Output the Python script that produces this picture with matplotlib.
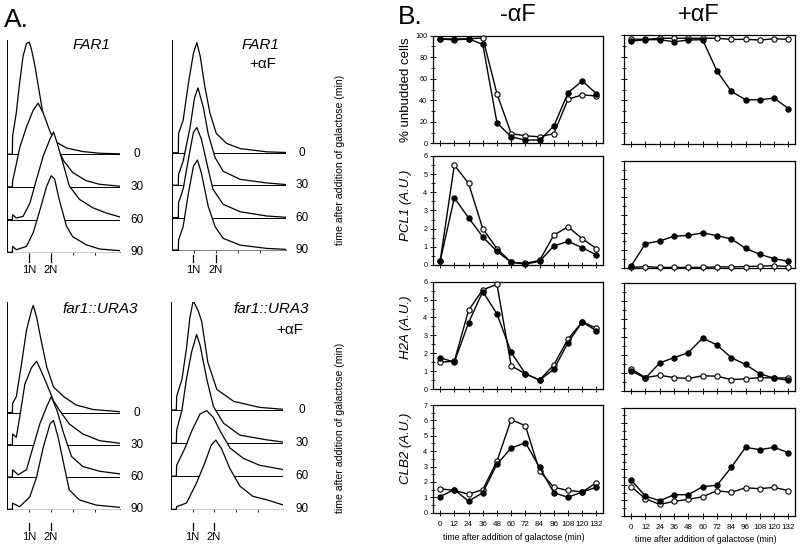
import matplotlib
matplotlib.use("Agg")
import matplotlib.pyplot as plt
from matplotlib.lines import Line2D
from matplotlib.ticker import MultipleLocator

plt.rcParams['font.family'] = ['Liberation Sans', 'DejaVu Sans']

W, H = 800, 548

# ---------------- Panel A data: flow cytometry traces (channel, height) ----------------
TIME_LABELS = ["0", "30", "60", "90"]
DNA_TICKS = [19.5, 38.8, 58, 77.5]

FAR1_X = [
    [0, 4.5, 4.7, 8, 11, 14, 17, 19.5, 21.5, 24.5, 29, 33, 38, 44, 52.5, 67, 82, 100],
    [0, 4.5, 4.7, 6.8, 11, 17, 23, 27.4, 32, 38, 44, 50, 58, 70, 82, 100],
    [0, 4.5, 4.7, 8, 14, 20, 26, 32, 38, 41, 44, 50, 55, 64, 76, 88, 100],
    [0, 4.5, 4.7, 8, 17, 23, 29, 35, 39, 42, 46, 52.5, 58, 70, 82, 100],
]
FAR1_H = [
    [0, 0, 0.55, 1.27, 2.2, 3.0, 3.38, 3.43, 3.2, 2.7, 1.78, 0.96, 0.55, 0.36, 0.19, 0.08, 0.03, 0.01],
    [0, 0, 0.19, 0.5, 1.2, 1.83, 2.35, 2.56, 2.25, 1.68, 1.22, 0.8, 0.44, 0.19, 0.08, 0.02],
    [0, 0, 0.15, 0.05, 0.1, 0.5, 1.24, 1.96, 2.47, 2.68, 2.37, 1.65, 1.03, 0.62, 0.36, 0.2, 0.08],
    [0, 0, 0.18, 0.08, 0.18, 0.6, 1.3, 2.03, 2.34, 2.24, 1.62, 0.8, 0.48, 0.23, 0.1, 0.05],
]

FAR1_AF_X = [
    [0, 5.8, 6, 10, 14.6, 19, 22, 25, 29, 33.5, 39, 48, 60, 83, 100],
    [0, 5.8, 6, 10, 16, 20, 23, 27.7, 32, 38, 45, 60, 83, 100],
    [0, 5.8, 6, 10, 14.6, 19, 22, 26, 30.6, 36, 45, 60, 83, 100],
    [0, 5.8, 6, 10, 14.6, 19, 22.5, 26, 32, 38, 45, 60, 83, 100],
]
FAR1_AF_H = [
    [0, 0, 0.6, 1.0, 2.14, 3.07, 3.4, 2.97, 2.04, 1.22, 0.6, 0.29, 0.13, 0.03, 0.01],
    [0, 0, 0.33, 0.74, 1.77, 2.7, 3.0, 2.4, 1.57, 0.85, 0.43, 0.18, 0.07, 0.02],
    [0, 0, 0.46, 0.88, 1.8, 2.63, 2.78, 2.42, 1.7, 0.88, 0.41, 0.18, 0.05, 0.01],
    [0, 0, 0.31, 0.72, 1.75, 2.58, 2.78, 2.37, 1.34, 0.72, 0.36, 0.15, 0.05, 0.02],
]

URA3_X = [
    [0, 4.5, 4.7, 8, 12.7, 17, 21.5, 23, 26, 30, 35, 41, 50, 61, 76, 100],
    [0, 4.5, 4.7, 8, 11, 15.6, 21.5, 26, 30, 35, 41, 46.6, 55, 67, 82, 100],
    [0, 4.5, 4.7, 9.7, 17, 23, 29, 35, 39, 44, 50, 57, 67, 82, 100],
    [0, 4.5, 4.7, 11, 20, 26, 32, 38, 41, 45, 50, 55, 64, 79, 100],
]
URA3_H = [
    [0, 0, 0.29, 0.5, 1.53, 2.56, 3.18, 3.33, 2.97, 2.25, 1.42, 0.8, 0.5, 0.24, 0.1, 0.03],
    [0, 0, 0.34, 0.24, 0.86, 1.89, 2.4, 2.6, 2.3, 1.89, 1.37, 1.06, 0.65, 0.34, 0.13, 0.05],
    [0, 0, 0.23, 0.07, 0.23, 0.95, 1.67, 2.19, 2.5, 2.08, 1.36, 0.64, 0.33, 0.18, 0.1],
    [0, 0, 0.19, 0.08, 0.39, 1.0, 1.94, 2.66, 2.76, 2.25, 1.42, 0.6, 0.29, 0.13, 0.06],
]

URA3_AF_X = [
    [0, 5, 5.3, 10, 14, 17, 20, 24.5, 27.5, 33, 41, 56, 79, 100],
    [0, 5, 5.3, 10, 14, 18.6, 23, 26, 32, 38, 47, 61.5, 85, 100],
    [0, 5, 5.3, 12.7, 18.6, 26, 32, 38, 44, 52.7, 64.5, 79, 100],
    [0, 5, 5.3, 14, 23, 30.5, 36, 40, 45, 52.7, 61.5, 73, 85, 100],
]
URA3_AF_H = [
    [0, 0, 0.41, 0.93, 1.86, 2.78, 3.3, 2.99, 2.68, 1.44, 0.62, 0.26, 0.08, 0.02],
    [0, 0, 0.39, 1.0, 1.94, 2.76, 3.28, 2.97, 1.94, 1.1, 0.6, 0.24, 0.1, 0.03],
    [0, 0, 0.33, 0.85, 1.36, 1.88, 1.98, 1.77, 1.36, 0.85, 0.54, 0.33, 0.2],
    [0, 0, 0.08, 0.19, 0.8, 1.42, 1.94, 2.09, 1.84, 1.22, 0.7, 0.39, 0.29, 0.13],
]

# ---------------- Panel B data ----------------
TIMES = [0, 12, 24, 36, 48, 60, 72, 84, 96, 108, 120, 132]

UNBUD_M_FILLED = [97, 97, 97, 92, 19, 6, 3, 3, 16, 47, 58, 46]
UNBUD_M_OPEN = [97, 96, 97, 98, 46, 9, 7, 6, 9, 41, 45, 44]
UNBUD_P_FILLED = [94.4, 95.7, 95.7, 93.8, 95.4, 95.7, 66.9, 48.3, 40.6, 40.6, 42.1, 32.5]
UNBUD_P_OPEN = [96.3, 96, 97, 97, 97, 97, 97, 96, 96, 95.4, 96.6, 96]

PCL1_M_FILLED = [0.2, 3.7, 2.6, 1.55, 0.75, 0.15, 0.05, 0.2, 1.05, 1.3, 0.95, 0.55]
PCL1_M_OPEN = [0.2, 5.5, 4.5, 2.0, 0.9, 0.15, 0.1, 0.25, 1.65, 2.1, 1.45, 0.9]
PCL1_P_FILLED = [0.13, 1.38, 1.53, 1.79, 1.84, 1.98, 1.83, 1.64, 1.12, 0.78, 0.54, 0.39]
PCL1_P_OPEN = [0.05, 0.1, 0.05, 0.05, 0.05, 0.05, 0.08, 0.08, 0.1, 0.12, 0.15, 0.1]

H2A_M_FILLED = [1.75, 1.5, 3.7, 5.45, 4.2, 2.05, 0.85, 0.5, 1.1, 2.6, 3.75, 3.25]
H2A_M_OPEN = [1.5, 1.55, 4.4, 5.55, 5.85, 1.3, 0.85, 0.5, 1.35, 2.8, 3.75, 3.4]
H2A_P_FILLED = [1.1, 0.7, 1.55, 1.84, 2.12, 2.93, 2.55, 1.84, 1.46, 0.94, 0.7, 0.58]
H2A_P_OPEN = [1.22, 0.73, 0.86, 0.73, 0.68, 0.83, 0.81, 0.62, 0.66, 0.73, 0.71, 0.71]

CLB2_M_FILLED = [1.05, 1.5, 0.75, 1.3, 3.15, 4.2, 4.55, 2.95, 1.3, 1.0, 1.35, 1.65]
CLB2_M_OPEN = [1.55, 1.45, 1.2, 1.5, 3.35, 6.05, 5.65, 2.7, 1.65, 1.45, 1.35, 1.95]
CLB2_P_FILLED = [2.3, 1.27, 0.97, 1.36, 1.36, 1.88, 1.97, 3.13, 4.43, 4.28, 4.43, 4.08]
CLB2_P_OPEN = [1.88, 1.1, 0.73, 0.93, 1.06, 1.23, 1.62, 1.51, 1.81, 1.75, 1.84, 1.62]

ROW_LABELS = ["% unbudded cells", "PCL1 (A.U.)", "H2A (A.U.)", "CLB2 (A.U.)"]
XLABEL = "time after addition of galactose (min)"

fig = plt.figure(figsize=(W / 100, H / 100), dpi=100)
fig.patch.set_facecolor("white")


def fx(x):
    return x / W


def fy(y):
    return 1 - y / H


def add_ax(x0, y0, x1, y1):
    return fig.add_axes([fx(x0), fy(y1), fx(x1) - fx(x0), fy(y0) - fy(y1)])


def ftext(x, y, s, **kw):
    fig.text(fx(x), fy(y), s, **kw)


def fline(x0, y0, x1, y1, lw=0.9):
    fig.add_artist(Line2D([fx(x0), fx(x1)], [fy(y0), fy(y1)],
                          transform=fig.transFigure, color="black", lw=lw))


def hist_panel(box, xs, hs, spacing, label_x, n1x, n2x, mark_y, lab_y):
    x0, y0, x1, y1 = box
    ax = add_ax(x0, y0, x1, y1)
    top = (y1 - y0) / spacing
    ax.set_xlim(0, 100)
    ax.set_ylim(0, top)
    for k in range(4):
        off = 3 - k
        xv = xs[k]
        yv = [off + h for h in hs[k]]
        ax.fill_between(xv, off, yv, color="white", zorder=2 * k + 1, lw=0)
        ax.plot(xv, yv, color="black", lw=0.9, zorder=2 * k + 2)
        ax.plot([0, 100], [off, off], color="black", lw=0.7, zorder=2 * k + 2)
        ftext(label_x, y1 - off * spacing, TIME_LABELS[k], fontsize=8.5,
              ha="center", va="center")
    for s in ["top", "right"]:
        ax.spines[s].set_visible(False)
    ax.spines["left"].set_linewidth(0.7)
    ax.spines["bottom"].set_linewidth(0.7)
    ax.set_yticks([])
    ax.set_xticks(DNA_TICKS)
    ax.set_xticklabels([])
    ax.tick_params(axis="x", direction="out", length=2.5, width=0.6)
    ax.patch.set_alpha(0)
    for xx, lab in [(n1x, "1N"), (n2x, "2N")]:
        fline(xx, mark_y[0], xx, mark_y[1])
        ftext(xx, lab_y, lab, fontsize=8, ha="center", va="center")
    return ax


# ---------------- Panel A ----------------
ftext(4, 20, "A.", fontsize=19, ha="left", va="center")

hist_panel((7.3, 40, 120, 252.3), FAR1_X, FAR1_H, 32.7, 137, 29.3, 50.7, (255, 262), 270)
hist_panel((171.7, 40, 286, 250), FAR1_AF_X, FAR1_AF_H, 32.4, 302, 193.3, 216, (255, 262), 270)
hist_panel((7.3, 301.7, 120, 509.3), URA3_X, URA3_H, 32.2, 137, 29.3, 50.7, (523, 530), 537)
hist_panel((170.7, 301.7, 283.3, 509.3), URA3_AF_X, URA3_AF_H, 33.1, 302, 192.7, 214, (523, 530), 537)

ftext(110, 45, "FAR1", fontsize=11, style="italic", ha="right", va="center")
ftext(279, 45, "FAR1", fontsize=11, style="italic", ha="right", va="center")
ftext(276, 64, "+\u03b1F", fontsize=11, ha="right", va="center")
ftext(138, 309, "far1::URA3", fontsize=11, style="italic", ha="right", va="center")
ftext(309, 309, "far1::URA3", fontsize=11, style="italic", ha="right", va="center")
ftext(303, 330, "+\u03b1F", fontsize=11, ha="right", va="center")

ftext(340, 160, XLABEL, fontsize=7.6, rotation=90, ha="center", va="center")
ftext(340, 428, XLABEL, fontsize=7.6, rotation=90, ha="center", va="center")

# ---------------- Panel B ----------------
ftext(398, 17, "B.", fontsize=19, ha="left", va="center")
ftext(518, 15, "-\u03b1F", fontsize=17, ha="center", va="center")
ftext(699, 15, "+\u03b1F", fontsize=17, ha="center", va="center")

LEFT_BOXES = [(433, 35.7, 603, 143.3), (433, 156, 603, 265), (433, 281.7, 603, 389), (433, 405, 603, 512.7)]
RIGHT_BOXES = [(624, 35, 795, 144), (624, 161, 795, 268.3), (624, 283, 795, 390.7), (624, 407.7, 795, 515.7)]
YMAX = [100, 6, 6, 7]
YMAJ = [20, 1, 1, 1]
YMIN = [10, 0.5, 0.5, 0.5]
LEFT_DATA = [(UNBUD_M_FILLED, UNBUD_M_OPEN), (PCL1_M_FILLED, PCL1_M_OPEN),
             (H2A_M_FILLED, H2A_M_OPEN), (CLB2_M_FILLED, CLB2_M_OPEN)]
RIGHT_DATA = [(UNBUD_P_FILLED, UNBUD_P_OPEN), (PCL1_P_FILLED, PCL1_P_OPEN),
              (H2A_P_FILLED, H2A_P_OPEN), (CLB2_P_FILLED, CLB2_P_OPEN)]
LABEL_Y = [90, 205, 327, 448]


def b_panel(box, data, row, left):
    ax = add_ax(*box)
    filled, opn = data
    ax.plot(TIMES, opn, color="black", lw=1.0, marker="o", ms=3.8,
            mfc="white", mec="black", mew=0.8, zorder=3, clip_on=False)
    ax.plot(TIMES, filled, color="black", lw=1.0, marker="o", ms=3.8,
            mfc="black", mec="black", mew=0.8, zorder=4, clip_on=False)
    ax.set_xlim(-6, 137.5)
    ax.set_ylim(0, YMAX[row])
    ax.set_xticks(TIMES)
    ax.yaxis.set_major_locator(MultipleLocator(YMAJ[row]))
    ax.yaxis.set_minor_locator(MultipleLocator(YMIN[row]))
    for s in ax.spines.values():
        s.set_linewidth(0.9)
    ax.tick_params(axis="x", direction="inout", length=4, width=0.7, pad=4, labelsize=5.8)
    ax.tick_params(axis="y", which="major", direction="inout", length=4, width=0.7, pad=2, labelsize=5.2)
    ax.tick_params(axis="y", which="minor", direction="inout", length=2.5, width=0.6)
    if not left:
        ax.set_yticklabels([])
    if row < 3:
        ax.set_xticklabels([])
    else:
        ax.set_xticklabels([str(t) for t in TIMES])
    return ax


for r in range(4):
    b_panel(LEFT_BOXES[r], LEFT_DATA[r], r, True)
    b_panel(RIGHT_BOXES[r], RIGHT_DATA[r], r, False)

ftext(406, LABEL_Y[0], ROW_LABELS[0], fontsize=9.5, rotation=90, ha="center", va="center")
for r in range(1, 4):
    ftext(406, LABEL_Y[r], ROW_LABELS[r], fontsize=9.5, style="italic", rotation=90,
          ha="center", va="center")

ftext(514, 538, XLABEL, fontsize=6.3, ha="center", va="center")
ftext(706, 540, XLABEL, fontsize=6.3, ha="center", va="center")

fig.savefig("out.png", dpi=100, facecolor="white")
